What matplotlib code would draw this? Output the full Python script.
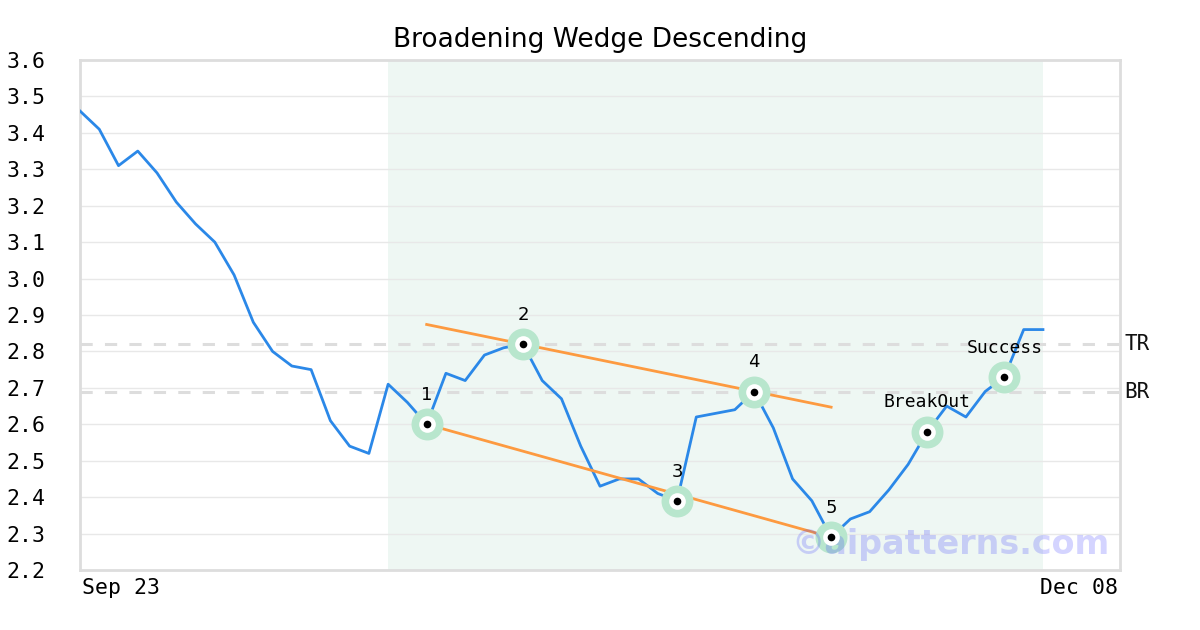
import matplotlib
matplotlib.use("Agg")
import matplotlib.pyplot as plt

prices = [3.46, 3.41, 3.31, 3.35, 3.29, 3.21, 3.15, 3.10, 3.01, 2.88,
          2.80, 2.76, 2.75, 2.61, 2.54, 2.52, 2.71, 2.66, 2.60, 2.74,
          2.72, 2.79, 2.81, 2.82, 2.72, 2.67, 2.54, 2.43, 2.45, 2.45,
          2.41, 2.39, 2.62, 2.63, 2.64, 2.69, 2.59, 2.45, 2.39, 2.29,
          2.34, 2.36, 2.42, 2.49, 2.58, 2.65, 2.62, 2.69, 2.73, 2.86,
          2.86]
x_labels = ["Sep 23", "Dec 08"]
pivot_idx = [18, 23, 31, 35, 39, 44, 48]
pivot_names = ["1", "2", "3", "4", "5", "BreakOut", "Success"]
upper_line_idx = [18, 39]
upper_line_val = [2.874, 2.647]
lower_line_idx = [18, 39]
lower_line_val = [2.60, 2.29]
tr_level = 2.82
br_level = 2.69
shade_range = [16, 50]
y_ticks = [2.2, 2.3, 2.4, 2.5, 2.6, 2.7, 2.8, 2.9, 3.0, 3.1, 3.2, 3.3, 3.4, 3.5, 3.6]

mono = "DejaVu Sans Mono"

fig = plt.figure(figsize=(12, 6.3), dpi=100)
ax = fig.add_axes([80/1200, 60/630, 1040/1200, 510/630])
xs = list(range(len(prices)))
ax.set_xlim(0, 54)
ax.set_ylim(2.2, 3.6)

ax.axvspan(shade_range[0], shade_range[1], color="#eef7f3", zorder=0, lw=0)
for t in y_ticks:
    ax.axhline(t, color="#e8e8e8", lw=1, zorder=1)
for lvl, name in [(tr_level, "TR"), (br_level, "BR")]:
    ax.axhline(lvl, color="#dddddd", lw=2.2, ls=(0, (4, 4)), zorder=1.5)
    ax.text(1.004, lvl, name, transform=ax.get_yaxis_transform(), ha="left",
            va="center", fontsize=15, family=mono, color="#111111")

ax.plot(xs, prices, color="#2b88e8", lw=2.0, zorder=3)
ax.plot(upper_line_idx, upper_line_val, color="#fd9a40", lw=2.0, zorder=3.5)
ax.plot(lower_line_idx, lower_line_val, color="#fd9a40", lw=2.0, zorder=3.5)

for i, name in zip(pivot_idx, pivot_names):
    ax.plot(i, prices[i], "o", ms=23, color="#b8e6cd", mec="none", zorder=4)
    ax.plot(i, prices[i], "o", ms=12, color="white", mec="none", zorder=5)
    ax.plot(i, prices[i], "o", ms=5.5, color="black", mec="none", zorder=6)
    fam = mono if len(name) > 1 else "DejaVu Sans"
    ax.annotate(name, (i, prices[i]), xytext=(0, 21), textcoords="offset points",
                ha="center", va="center", fontsize=13, family=fam, zorder=7)

ax.text(0.99, 0.05, "\u00a9aipatterns.com", transform=ax.transAxes, ha="right",
        va="center", fontsize=24, fontweight="bold", color="#3c3cff", alpha=0.22,
        zorder=4.5)

ax.set_yticks(y_ticks)
ax.set_yticklabels([f"{t:.1f}" for t in y_ticks], family=mono, fontsize=15.5)
ax.tick_params(axis="y", length=0, pad=25)
ax.set_xticks([])
ax.text(0.002, -0.035, x_labels[0], transform=ax.transAxes, ha="left", va="center",
        fontsize=15.5, family=mono)
ax.text(0.998, -0.035, x_labels[1], transform=ax.transAxes, ha="right", va="center",
        fontsize=15.5, family=mono)

for s in ax.spines.values():
    s.set_color("#dddddd")
    s.set_linewidth(2)

fig.text(0.5, 1 - 40/630, "Broadening Wedge Descending", ha="center", va="center",
         fontsize=19)

fig.savefig("out.png", dpi=100)
